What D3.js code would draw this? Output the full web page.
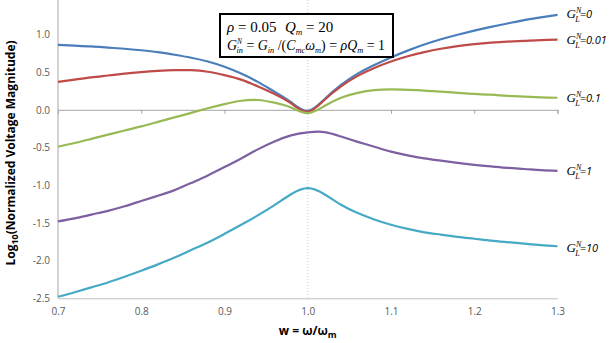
<!DOCTYPE html>
<html lang="en">
<head>
<meta charset="utf-8" />
<title>Normalized voltage magnitude</title>
<script src="https://d3js.org/d3.v7.min.js"></script>
<style>
  body { margin: 0; background: #fff; }
  .tick text { font-family: "Open Sans", "Liberation Sans", sans-serif; font-size: 10px; fill: #595959; }
  .axis-title { font-family: "Open Sans", "Liberation Sans", sans-serif; font-weight: bold; font-size: 12px; fill: #000; }
  .serif { font-family: "Liberation Serif", "Times New Roman", serif; font-style: italic; }
</style>
</head>
<body>
<svg width="614" height="343"></svg>
<script>
// frequency ratio w = omega / omega_m (sample points)
var wVals = [0.70, 0.72, 0.74, 0.76, 0.78, 0.80, 0.82, 0.84, 0.86, 0.88, 0.90, 0.92, 0.94, 0.96, 0.98,
             1.00, 1.02, 1.04, 1.06, 1.08, 1.10, 1.12, 1.14, 1.16, 1.18, 1.20, 1.22, 1.24, 1.26, 1.28, 1.30];

// log10 of normalized voltage magnitude, one array per load conductance G_L^N
var g0   = [0.86, 0.85, 0.84, 0.825, 0.81, 0.79, 0.765, 0.73, 0.69, 0.64, 0.57, 0.48, 0.37, 0.24, 0.10,
            -0.015, 0.14, 0.33, 0.48, 0.595, 0.695, 0.785, 0.865, 0.935, 0.995, 1.05, 1.10, 1.145, 1.19, 1.225, 1.26];
var g001 = [0.37, 0.40, 0.43, 0.455, 0.48, 0.50, 0.515, 0.525, 0.525, 0.505, 0.46, 0.40, 0.31, 0.21, 0.085,
            -0.025, 0.13, 0.31, 0.45, 0.555, 0.64, 0.71, 0.765, 0.81, 0.845, 0.87, 0.89, 0.905, 0.915, 0.925, 0.93];
var g01  = [-0.49, -0.44, -0.385, -0.33, -0.275, -0.22, -0.16, -0.10, -0.04, 0.02, 0.075, 0.12, 0.13, 0.095, 0.03,
            -0.045, 0.05, 0.16, 0.225, 0.26, 0.27, 0.265, 0.255, 0.24, 0.225, 0.21, 0.20, 0.185, 0.175, 0.165, 0.16];
var g1   = [-1.48, -1.44, -1.39, -1.34, -1.28, -1.21, -1.14, -1.065, -0.97, -0.87, -0.76, -0.645, -0.525, -0.42, -0.34,
            -0.30, -0.295, -0.355, -0.425, -0.49, -0.555, -0.605, -0.645, -0.675, -0.705, -0.73, -0.75, -0.77, -0.785, -0.80, -0.81];
var g10  = [-2.48, -2.42, -2.355, -2.29, -2.215, -2.135, -2.05, -1.96, -1.86, -1.76, -1.645, -1.525, -1.40, -1.265, -1.12,
            -1.04, -1.12, -1.26, -1.37, -1.455, -1.525, -1.58, -1.625, -1.655, -1.685, -1.71, -1.735, -1.755, -1.775, -1.795, -1.81];

var seriesNames = ["0", "0.01", "0.1", "1", "10"];
var seriesValues = [g0, g001, g01, g1, g10];
var colors = ["#4a7ebb", "#be4b48", "#98b954", "#7d60a0", "#46aac5"];

var xTicks = [0.7, 0.8, 0.9, 1.0, 1.1, 1.2, 1.3];
var yTicks = [-2.5, -2.0, -1.5, -1.0, -0.5, 0.0, 0.5, 1.0];

var svg = d3.select("svg");

var x = d3.scaleLinear().domain([0.7, 1.3]).range([58, 557.5]);
var y = d3.scaleLinear().domain([-2.5, 1.5]).range([298.3, -3.3]);

// dotted line at resonance
svg.append("line")
  .attr("x1", x(1.0)).attr("x2", x(1.0))
  .attr("y1", 0).attr("y2", y(-2.5))
  .attr("stroke", "#c8c8c8")
  .attr("stroke-dasharray", "1,2");

// bottom border line with labels
var xAxis = svg.append("g")
  .attr("transform", "translate(0," + y(-2.5) + ")")
  .call(d3.axisBottom(x).tickValues(xTicks).tickSize(0).tickPadding(10).tickFormat(d3.format(".1f")));
xAxis.select(".domain").attr("stroke", "#bfbfbf");

// horizontal axis crossing at zero
var zeroAxis = svg.append("g")
  .attr("transform", "translate(0," + y(0) + ")")
  .call(d3.axisBottom(x).tickValues(xTicks).tickSize(4).tickFormat(""));
zeroAxis.select(".domain").attr("stroke", "#a6a6a6");
zeroAxis.selectAll(".tick line").attr("stroke", "#a6a6a6");

// vertical axis
var yAxis = svg.append("g")
  .attr("transform", "translate(" + x(0.7) + ",0)")
  .call(d3.axisLeft(y).tickValues(yTicks).tickSize(0).tickPadding(8).tickFormat(d3.format(".1f")));
yAxis.select(".domain").attr("d", "M0," + y(-2.5) + "V0").attr("stroke", "#a6a6a6");
yAxis.selectAll(".tick text").text(function (d) { return d3.format(".1f")(d).replace("−", "-"); });

// curves
var line = d3.line()
  .x(function (d) { return x(d[0]); })
  .y(function (d) { return y(d[1]); })
  .curve(d3.curveNatural);

seriesValues.forEach(function (vals, i) {
  svg.append("path")
    .datum(wVals.map(function (w, j) { return [w, vals[j]]; }))
    .attr("fill", "none")
    .attr("stroke", colors[i])
    .attr("stroke-width", 2.2)
    .attr("d", line);
});

// series labels at the right end
var labelOffsets = [-1, 0, 0, 0, 2];
seriesValues.forEach(function (vals, i) {
  var t = svg.append("text")
    .attr("x", x(1.3) + 9)
    .attr("y", y(vals[vals.length - 1]) + 4 + labelOffsets[i])
    .attr("fill", "#000");
  t.append("tspan").attr("class", "serif").attr("font-size", 13).text("G");
  t.append("tspan").attr("class", "serif").attr("font-size", 8).attr("dy", -5).attr("dx", 0).text("N");
  t.append("tspan").attr("class", "serif").attr("font-size", 8).attr("dy", 9).attr("dx", -6).text("L");
  t.append("tspan").attr("dy", -4)
    .attr("font-family", "'Open Sans', 'Liberation Sans', sans-serif")
    .attr("font-style", "italic").attr("font-size", 11).text("=" + seriesNames[i]);
});

// parameter box
svg.append("rect")
  .attr("x", 220).attr("y", 14).attr("width", 173).attr("height", 43)
  .attr("fill", "#fff").attr("stroke", "#000").attr("stroke-width", 2);

var l1 = svg.append("text").attr("y", 32).attr("class", "serif").attr("font-size", 15).attr("fill", "#000");
l1.append("tspan").attr("x", 227).text("ρ");
l1.append("tspan").attr("font-style", "normal").text(" = 0.05");
l1.append("tspan").attr("x", 285).text("Q");
l1.append("tspan").attr("font-size", 9).attr("dy", 3).text("m");
l1.append("tspan").attr("font-style", "normal").attr("dy", -3).text(" = 20");

var l2 = svg.append("text").attr("x", 227).attr("y", 50).attr("class", "serif").attr("font-size", 15)
  .attr("fill", "#000").attr("textLength", 158).attr("lengthAdjust", "spacingAndGlyphs");
l2.append("tspan").text("G");
l2.append("tspan").attr("font-size", 8).attr("dy", -6).text("N");
l2.append("tspan").attr("font-size", 9).attr("dy", 9).attr("dx", -6).text("in");
l2.append("tspan").attr("font-style", "normal").attr("dy", -3).text(" = ");
l2.append("tspan").text("G");
l2.append("tspan").attr("font-size", 9).attr("dy", 3).text("in");
l2.append("tspan").attr("font-style", "normal").attr("dy", -3).text(" /(");
l2.append("tspan").text("C");
l2.append("tspan").attr("font-size", 9).attr("dy", 3).text("mc");
l2.append("tspan").attr("dy", -3).text("ω");
l2.append("tspan").attr("font-size", 9).attr("dy", 3).text("m");
l2.append("tspan").attr("font-style", "normal").attr("dy", -3).text(") = ");
l2.append("tspan").text("ρQ");
l2.append("tspan").attr("font-size", 9).attr("dy", 3).text("m");
l2.append("tspan").attr("font-style", "normal").attr("dy", -3).text(" = 1");

// axis titles
var yt = svg.append("text")
  .attr("class", "axis-title")
  .attr("text-anchor", "middle")
  .attr("transform", "translate(15,153) rotate(-90)");
yt.append("tspan").text("Log");
yt.append("tspan").attr("font-size", 9).attr("dy", 3).text("10");
yt.append("tspan").attr("dy", -3).text("(Normalized Voltage Magnitude)");

var xt = svg.append("text")
  .attr("class", "axis-title")
  .attr("text-anchor", "middle")
  .attr("x", x(1.0)).attr("y", 335);
xt.append("tspan").text("w = ω/ω");
xt.append("tspan").attr("font-size", 9).attr("dy", 3).text("m");
</script>
</body>
</html>
